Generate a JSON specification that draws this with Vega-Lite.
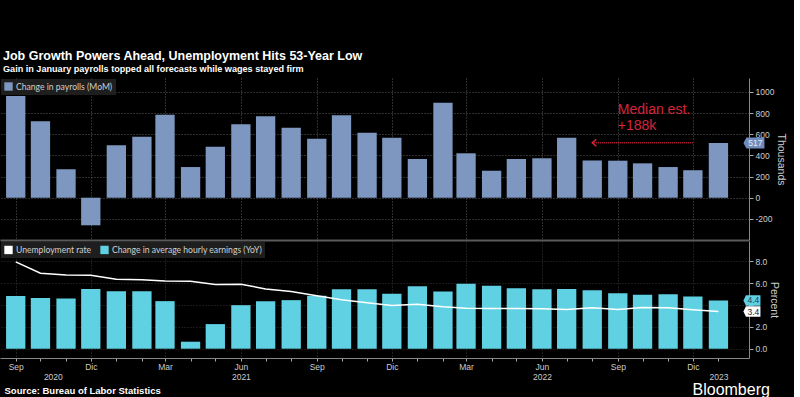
{
"$schema": "https://vega.github.io/schema/vega-lite/v6.json",
"background": "#000000",
"padding": {"left": 0, "right": 8, "top": 49, "bottom": 0},
"title": {"text": "Job Growth Powers Ahead, Unemployment Hits 53-Year Low", "subtitle": "Gain in January payrolls topped all forecasts while wages stayed firm", "anchor": "start", "dx": 3, "color": "#ffffff", "subtitleColor": "#ffffff", "font": "Liberation Sans", "fontSize": 12.5, "fontWeight": "bold", "subtitleFont": "Liberation Sans", "subtitleFontSize": 9.1, "subtitleFontWeight": "bold", "subtitlePadding": 3, "offset": 3.5},
"datasets": {
"payrolls": [
{"date": "2020-09-01T00:00", "payrolls": 962},
{"date": "2020-10-01T00:00", "payrolls": 723},
{"date": "2020-11-01T00:00", "payrolls": 269},
{"date": "2020-12-01T00:00", "payrolls": -261},
{"date": "2021-01-01T00:00", "payrolls": 496},
{"date": "2021-02-01T00:00", "payrolls": 577},
{"date": "2021-03-01T00:00", "payrolls": 785},
{"date": "2021-04-01T00:00", "payrolls": 290},
{"date": "2021-05-01T00:00", "payrolls": 482},
{"date": "2021-06-01T00:00", "payrolls": 694},
{"date": "2021-07-01T00:00", "payrolls": 770},
{"date": "2021-08-01T00:00", "payrolls": 662},
{"date": "2021-09-01T00:00", "payrolls": 558},
{"date": "2021-10-01T00:00", "payrolls": 780},
{"date": "2021-11-01T00:00", "payrolls": 615},
{"date": "2021-12-01T00:00", "payrolls": 568},
{"date": "2022-01-01T00:00", "payrolls": 366},
{"date": "2022-02-01T00:00", "payrolls": 899},
{"date": "2022-03-01T00:00", "payrolls": 420},
{"date": "2022-04-01T00:00", "payrolls": 255},
{"date": "2022-05-01T00:00", "payrolls": 366},
{"date": "2022-06-01T00:00", "payrolls": 373},
{"date": "2022-07-01T00:00", "payrolls": 568},
{"date": "2022-08-01T00:00", "payrolls": 352},
{"date": "2022-09-01T00:00", "payrolls": 350},
{"date": "2022-10-01T00:00", "payrolls": 325},
{"date": "2022-11-01T00:00", "payrolls": 290},
{"date": "2022-12-01T00:00", "payrolls": 260},
{"date": "2023-01-01T00:00", "payrolls": 517}
],
"labour": [
{"date": "2020-09-01T00:00", "earnings": 4.81, "unemployment": 7.94},
{"date": "2020-10-01T00:00", "earnings": 4.63, "unemployment": 6.9},
{"date": "2020-11-01T00:00", "earnings": 4.59, "unemployment": 6.75},
{"date": "2020-12-01T00:00", "earnings": 5.47, "unemployment": 6.72},
{"date": "2021-01-01T00:00", "earnings": 5.26, "unemployment": 6.35},
{"date": "2021-02-01T00:00", "earnings": 5.26, "unemployment": 6.3},
{"date": "2021-03-01T00:00", "earnings": 4.35, "unemployment": 6.2},
{"date": "2021-04-01T00:00", "earnings": 0.64, "unemployment": 6.17},
{"date": "2021-05-01T00:00", "earnings": 2.25, "unemployment": 5.87},
{"date": "2021-06-01T00:00", "earnings": 3.98, "unemployment": 5.9},
{"date": "2021-07-01T00:00", "earnings": 4.35, "unemployment": 5.47},
{"date": "2021-08-01T00:00", "earnings": 4.44, "unemployment": 5.23},
{"date": "2021-09-01T00:00", "earnings": 4.84, "unemployment": 4.84},
{"date": "2021-10-01T00:00", "earnings": 5.44, "unemployment": 4.47},
{"date": "2021-11-01T00:00", "earnings": 5.44, "unemployment": 4.2},
{"date": "2021-12-01T00:00", "earnings": 5.02, "unemployment": 3.95},
{"date": "2022-01-01T00:00", "earnings": 5.72, "unemployment": 4.07},
{"date": "2022-02-01T00:00", "earnings": 5.23, "unemployment": 3.83},
{"date": "2022-03-01T00:00", "earnings": 5.93, "unemployment": 3.71},
{"date": "2022-04-01T00:00", "earnings": 5.75, "unemployment": 3.68},
{"date": "2022-05-01T00:00", "earnings": 5.53, "unemployment": 3.68},
{"date": "2022-06-01T00:00", "earnings": 5.44, "unemployment": 3.65},
{"date": "2022-07-01T00:00", "earnings": 5.47, "unemployment": 3.59},
{"date": "2022-08-01T00:00", "earnings": 5.35, "unemployment": 3.74},
{"date": "2022-09-01T00:00", "earnings": 5.08, "unemployment": 3.59},
{"date": "2022-10-01T00:00", "earnings": 4.93, "unemployment": 3.77},
{"date": "2022-11-01T00:00", "earnings": 4.99, "unemployment": 3.74},
{"date": "2022-12-01T00:00", "earnings": 4.77, "unemployment": 3.56},
{"date": "2023-01-01T00:00", "earnings": 4.41, "unemployment": 3.4}
],
"annotation": [
{"date": "2022-09-01T00:00", "payrolls": 792, "from": "2022-08-01T00:00", "to": "2022-12-01T00:00", "level": 520}
]
},
"vconcat": [
{
"width": 749,
"height": 162,
"layer": [
{
"data": {"name": "payrolls"},
"mark": {"type": "bar", "size": 19.3},
"encoding": {
"x": {"field": "date", "type": "temporal",
 "scale": {"domain": [{"year": 2020, "month": 8, "date": 19}, {"year": 2023, "month": 2, "date": 1}]},
 "axis": {"orient": "bottom", "tickCount": 60, "values": [{"year": 2020, "month": 9, "date": 1}, {"year": 2020, "month": 12, "date": 1}, {"year": 2021, "month": 3, "date": 1}, {"year": 2021, "month": 6, "date": 1}, {"year": 2021, "month": 9, "date": 1}, {"year": 2021, "month": 12, "date": 1}, {"year": 2022, "month": 3, "date": 1}, {"year": 2022, "month": 6, "date": 1}, {"year": 2022, "month": 9, "date": 1}, {"year": 2022, "month": 12, "date": 1}],
  "labels": false, "ticks": false, "domain": true, "domainColor": "#5a5a5a", "domainWidth": 2, "grid": true, "title": null}},
"y": {"field": "payrolls", "type": "quantitative",
 "scale": {"domain": [-400, 1132], "nice": false, "zero": false},
 "axis": {"orient": "right", "tickCount": 40, "values": [-200, 0, 200, 400, 600, 800, 1000], "labelExpr": "datum.value < 0 ? '-' + abs(datum.value) : '' + datum.value", "title": "Thousands"}},
"color": {"datum": "Change in payrolls (MoM)", "scale": {"domain": ["Change in payrolls (MoM)"], "range": ["#7d97c0"]}, "legend": {"orient": "top-left", "title": null}}
}
},
{
"data": {"name": "annotation"},
"mark": {"type": "rule", "color": "#d8243c", "strokeWidth": 1.5, "strokeDash": [1, 1]},
"encoding": {
"x": {"field": "from", "type": "temporal"},
"x2": {"field": "to"},
"y": {"field": "level", "type": "quantitative"}
}
},
{
"data": {"name": "annotation"},
"mark": {"type": "point", "shape": "M4,-3.5 L0,0 L4,3.5", "size": 4, "filled": false, "color": "#d8243c", "strokeWidth": 1.5, "opacity": 1},
"encoding": {
"x": {"field": "from", "type": "temporal"},
"y": {"field": "level", "type": "quantitative"}
}
},
{
"data": {"name": "annotation"},
"mark": {"type": "text", "text": ["Median est.", "+188k"], "align": "left", "baseline": "alphabetic", "lineHeight": 16.5, "font": "Liberation Sans", "fontSize": 14, "color": "#d8243c"},
"encoding": {
"x": {"field": "date", "type": "temporal"},
"y": {"field": "payrolls", "type": "quantitative"}
}
},
{
"data": {"name": "payrolls"},
"transform": [{"filter": "year(datum.date) == 2023"}],
"mark": {"type": "point", "shape": "M25,0 L28,-5.5 L46,-5.5 L46,5.5 L28,5.5 Z", "size": 4, "filled": true, "color": "#6f8cbc", "opacity": 1},
"encoding": {
"x": {"field": "date", "type": "temporal"},
"y": {"field": "payrolls", "type": "quantitative"}
}
},
{
"data": {"name": "payrolls"},
"transform": [{"filter": "year(datum.date) == 2023"}],
"mark": {"type": "text", "align": "center", "baseline": "middle", "xOffset": 37, "font": "Liberation Sans", "fontSize": 8.5, "color": "#e4ebf6"},
"encoding": {
"x": {"field": "date", "type": "temporal"},
"y": {"field": "payrolls", "type": "quantitative"},
"text": {"field": "payrolls", "type": "quantitative"}
}
}
]
},
{
"width": 749,
"height": 117,
"resolve": {"axis": {"x": "independent"}},
"layer": [
{
"data": {"name": "labour"},
"mark": {"type": "bar", "size": 19.3},
"encoding": {
"x": {"field": "date", "type": "temporal",
 "scale": {"domain": [{"year": 2020, "month": 8, "date": 19}, {"year": 2023, "month": 2, "date": 1}]},
 "axis": {"orient": "bottom", "tickCount": 60,
  "values": [{"year": 2020, "month": 9, "date": 1}, {"year": 2020, "month": 10, "date": 1}, {"year": 2020, "month": 11, "date": 1}, {"year": 2020, "month": 12, "date": 1},
   {"year": 2021, "month": 1, "date": 1}, {"year": 2021, "month": 2, "date": 1}, {"year": 2021, "month": 3, "date": 1}, {"year": 2021, "month": 4, "date": 1}, {"year": 2021, "month": 5, "date": 1}, {"year": 2021, "month": 6, "date": 1}, {"year": 2021, "month": 7, "date": 1}, {"year": 2021, "month": 8, "date": 1}, {"year": 2021, "month": 9, "date": 1}, {"year": 2021, "month": 10, "date": 1}, {"year": 2021, "month": 11, "date": 1}, {"year": 2021, "month": 12, "date": 1},
   {"year": 2022, "month": 1, "date": 1}, {"year": 2022, "month": 2, "date": 1}, {"year": 2022, "month": 3, "date": 1}, {"year": 2022, "month": 4, "date": 1}, {"year": 2022, "month": 5, "date": 1}, {"year": 2022, "month": 6, "date": 1}, {"year": 2022, "month": 7, "date": 1}, {"year": 2022, "month": 8, "date": 1}, {"year": 2022, "month": 9, "date": 1}, {"year": 2022, "month": 10, "date": 1}, {"year": 2022, "month": 11, "date": 1}, {"year": 2022, "month": 12, "date": 1},
   {"year": 2023, "month": 1, "date": 1}],
  "labelExpr": "month(datum.value) == 8 ? 'Sep' : month(datum.value) == 11 ? 'Dic' : month(datum.value) == 2 ? 'Mar' : month(datum.value) == 5 ? 'Jun' : ''",
  "labelOverlap": false, "labelFlush": false, "labelPadding": 1.5,
  "tickSize": 3,
  "grid": true,
  "gridOpacity": {"condition": {"test": "month(datum.value) % 3 == 2", "value": 1}, "value": 0},
  "gridColor": "#3a3a3a",
  "title": "Source: Bureau of Labor Statistics", "titleX": 4, "titleY": 35, "titleAlign": "left", "titleAnchor": null, "titleBaseline": "alphabetic", "titleFont": "Liberation Sans", "titleFontWeight": "bold", "titleFontSize": 9.5, "titleColor": "#ffffff"}},
"y": {"field": "earnings", "type": "quantitative",
 "scale": {"domain": [-0.85, 9.85], "nice": false, "zero": false},
 "axis": {"orient": "right", "tickCount": 40, "values": [0, 2, 4, 6, 8], "labelExpr": "datum.value == 4 ? '' : format(datum.value, '.1f')", "title": "Percent", "gridColor": "#333333"}},
"color": {"datum": "Change in average hourly earnings (YoY)", "scale": {"domain": ["Unemployment rate", "Change in average hourly earnings (YoY)"], "range": ["#ffffff", "#5fd1e2"]}, "legend": {"orient": "top-left", "title": null}}
}
},
{
"data": {"name": "labour"},
"mark": {"type": "line", "color": "#ffffff", "strokeWidth": 1.5},
"encoding": {
"x": {"field": "date", "type": "temporal",
 "axis": {"orient": "bottom", "tickCount": 60, "values": [{"year": 2020, "month": 10, "date": 16}, {"year": 2021, "month": 6, "date": 1}, {"year": 2022, "month": 6, "date": 1}, {"year": 2023, "month": 1, "date": 1}],
  "format": "%Y", "ticks": false, "domain": false, "grid": false, "labelPadding": 14, "labelOverlap": false, "labelFlush": false,
  "title": "Bloomberg", "titleX": 692, "titleY": 36, "titleAlign": "left", "titleAnchor": null, "titleBaseline": "alphabetic", "titleFont": "Liberation Sans", "titleFontSize": 16, "titleFontWeight": "normal", "titleColor": "#ffffff"}},
"y": {"field": "unemployment", "type": "quantitative"}
}
},
{
"data": {"name": "labour"},
"transform": [{"filter": "year(datum.date) == 2023"}],
"mark": {"type": "point", "shape": "M25,0 L27.5,-5.2 L42,-5.2 L42,5.2 L27.5,5.2 Z", "size": 4, "filled": true, "color": "#5fd1e2", "opacity": 1},
"encoding": {
"x": {"field": "date", "type": "temporal", "axis": null},
"y": {"field": "earnings", "type": "quantitative"}
}
},
{
"data": {"name": "labour"},
"transform": [{"filter": "year(datum.date) == 2023"}],
"mark": {"type": "text", "align": "center", "baseline": "middle", "xOffset": 35, "font": "Liberation Sans", "fontSize": 8.5, "color": "#1b4660"},
"encoding": {
"x": {"field": "date", "type": "temporal", "axis": null},
"y": {"field": "earnings", "type": "quantitative"},
"text": {"field": "earnings", "type": "quantitative", "format": ".1f"}
}
},
{
"data": {"name": "labour"},
"transform": [{"filter": "year(datum.date) == 2023"}],
"mark": {"type": "point", "shape": "M25,0 L27.5,-5.2 L42,-5.2 L42,5.2 L27.5,5.2 Z", "size": 4, "filled": true, "color": "#ffffff", "opacity": 1},
"encoding": {
"x": {"field": "date", "type": "temporal", "axis": null},
"y": {"field": "unemployment", "type": "quantitative"}
}
},
{
"data": {"name": "labour"},
"transform": [{"filter": "year(datum.date) == 2023"}],
"mark": {"type": "text", "align": "center", "baseline": "middle", "xOffset": 35, "font": "Liberation Sans", "fontSize": 8.5, "color": "#222222"},
"encoding": {
"x": {"field": "date", "type": "temporal", "axis": null},
"y": {"field": "unemployment", "type": "quantitative"},
"text": {"field": "unemployment", "type": "quantitative", "format": ".1f"}
}
}
]
}
],
"spacing": 1,
"resolve": {"scale": {"color": "independent"}, "legend": {"color": "independent"}},
"config": {
"view": {"stroke": null},
"font": "Liberation Sans",
"axis": {"labelColor": "#cccccc", "labelFont": "Liberation Sans", "labelFontSize": 8.5, "labelOverlap": false, "tickColor": "#aaaaaa", "domainColor": "#888888", "titleColor": "#cccccc", "titleFont": "Liberation Sans", "titleFontSize": 10.5, "titleFontWeight": "normal", "gridColor": "#5a5a5a", "gridDash": [1, 2]},
"axisY": {"tickSize": 4, "labelPadding": 2, "titlePadding": 2, "grid": true},
"legend": {"fillColor": "#1e1e1e", "padding": 3, "offset": 1, "labelColor": "#d0d0d0", "labelFont": "Lato", "labelFontSize": 8.6, "labelLimit": 400, "symbolType": "square", "symbolSize": 70, "symbolStrokeWidth": 0, "direction": "horizontal", "columnPadding": 8, "labelOffset": 3}
}
}
